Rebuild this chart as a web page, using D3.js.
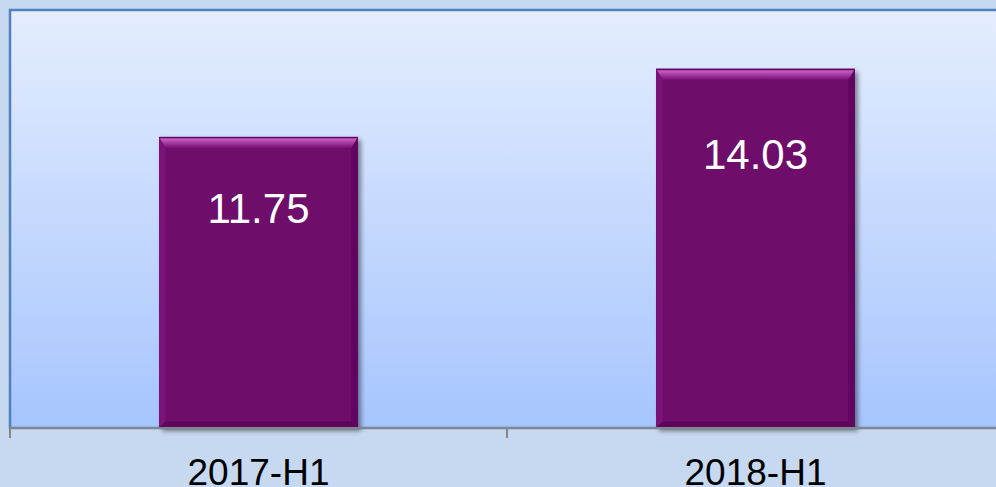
<!DOCTYPE html>
<html><head><meta charset="utf-8">
<script src="https://cdn.jsdelivr.net/npm/d3@7"></script>
<style>html,body{margin:0;padding:0;background:#c6d9f0;}svg{display:block;}</style>
</head><body>
<script>
const categories = ["2017-H1", "2018-H1"];
const values = [11.75, 14.03];
const yDomain = [2, 16];

const W = 996, H = 487;
const plot = {left: 10, top: 10, right: 1004, bottom: 428};

const svg = d3.select("body").append("svg").attr("width", W).attr("height", H);
const defs = svg.append("defs");

const bg = defs.append("linearGradient").attr("id","bg").attr("x1",0).attr("y1",0).attr("x2",0).attr("y2",1);
bg.append("stop").attr("offset",0).attr("stop-color","#e4edfe");
bg.append("stop").attr("offset",1).attr("stop-color","#a6c5fd");

const topBev = defs.append("linearGradient").attr("id","topbev").attr("x1",0).attr("y1",0).attr("x2",0).attr("y2",1);
topBev.append("stop").attr("offset",0).attr("stop-color","#8a1a86");
topBev.append("stop").attr("offset",0.25).attr("stop-color","#c25ac0");
topBev.append("stop").attr("offset",0.55).attr("stop-color","#a33aa0");
topBev.append("stop").attr("offset",1).attr("stop-color","#770f74");

const shadow = defs.append("filter").attr("id","sh").attr("x","-10%").attr("y","-10%").attr("width","130%").attr("height","130%");
shadow.append("feGaussianBlur").attr("in","SourceAlpha").attr("stdDeviation",2.5).attr("result","b");
shadow.append("feOffset").attr("in","b").attr("dx",3).attr("dy",3).attr("result","o");
shadow.append("feComponentTransfer").attr("in","o").attr("result","o2")
  .append("feFuncA").attr("type","linear").attr("slope",0.45);
const fm = shadow.append("feMerge");
fm.append("feMergeNode").attr("in","o2");
fm.append("feMergeNode").attr("in","SourceGraphic");

// plot area
svg.append("rect").attr("x",plot.left).attr("y",plot.top)
  .attr("width",plot.right-plot.left).attr("height",plot.bottom-plot.top)
  .attr("fill","url(#bg)").attr("stroke","#4f81bd").attr("stroke-width",2.5);

const x = d3.scaleBand().domain(categories).range([plot.left, plot.right])
  .paddingInner(0.6).paddingOuter(0.3);
const xCat = d3.scaleBand().domain(categories).range([plot.left, plot.right]).padding(0);
const y = d3.scaleLinear().domain(yDomain).range([plot.bottom, plot.top]);

const bev = 11;
const bars = svg.append("g").selectAll("g").data(categories).join("g");
bars.each(function(c, i){
  const g = d3.select(this);
  const x0 = x(c), x1 = x(c)+x.bandwidth(), y0 = y(values[i]), y1 = y(yDomain[0]);
  g.append("rect").attr("x",x0).attr("y",y0).attr("width",x1-x0).attr("height",y1-y0)
    .attr("fill","#6e076b").attr("filter","url(#sh)");
  // left bevel
  g.append("path").attr("d",`M${x0},${y0}L${x0+bev*0.6},${y0+bev}L${x0+bev*0.6},${y1-bev*0.6}L${x0},${y1}Z`).attr("fill","#7a1277");
  // right bevel
  g.append("path").attr("d",`M${x1},${y0}L${x1-bev*0.6},${y0+bev}L${x1-bev*0.6},${y1-bev*0.6}L${x1},${y1}Z`).attr("fill","#620561");
  // bottom bevel
  g.append("path").attr("d",`M${x0},${y1}L${x0+bev*0.6},${y1-bev*0.6}L${x1-bev*0.6},${y1-bev*0.6}L${x1},${y1}Z`).attr("fill","#5e045c");
  // top bevel
  g.append("path").attr("d",`M${x0},${y0}L${x1},${y0}L${x1-bev*0.6},${y0+bev}L${x0+bev*0.6},${y0+bev}Z`).attr("fill","url(#topbev)");
  g.append("line").attr("x1",x0).attr("x2",x1).attr("y1",y0+0.5).attr("y2",y0+0.5).attr("stroke","#5a0458").attr("stroke-width",1);
});

// value labels
svg.append("g").selectAll("text").data(categories).join("text")
  .attr("x", c => x(c) + x.bandwidth()/2)
  .attr("y", (c,i) => y(values[i]*0.795))
  .attr("text-anchor","middle").attr("dominant-baseline","central")
  .attr("font-family","'Liberation Sans', Arial, sans-serif").attr("font-size",42)
  .attr("fill","#ffffff").text((c,i) => values[i].toFixed(2));

// x axis
const ax = svg.append("g");
ax.append("line").attr("x1",plot.left).attr("x2",W+10).attr("y1",plot.bottom).attr("y2",plot.bottom)
  .attr("stroke","#868686").attr("stroke-width",2);
const tickPos = categories.map(c => xCat(c)).concat([xCat(categories[categories.length-1]) + xCat.bandwidth()]);
ax.selectAll("line.t").data(tickPos).join("line").attr("class","t")
  .attr("x1",d=>d).attr("x2",d=>d).attr("y1",plot.bottom).attr("y2",plot.bottom+10)
  .attr("stroke","#868686").attr("stroke-width",2);
ax.selectAll("text").data(categories).join("text")
  .attr("x", c => xCat(c) + xCat.bandwidth()/2).attr("y", 485)
  .attr("text-anchor","middle")
  .attr("font-family","'Liberation Sans', Arial, sans-serif").attr("font-size",37)
  .attr("fill","#000").text(c => c);
</script>
</body></html>
